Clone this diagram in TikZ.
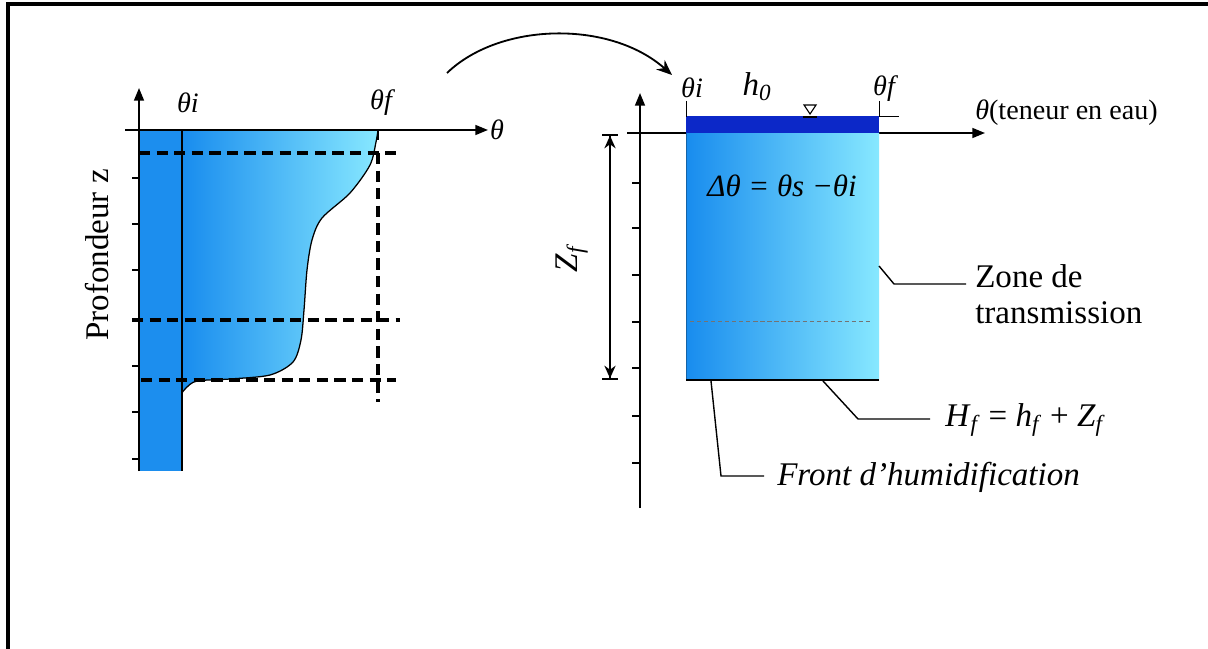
\documentclass[tikz,border=0pt]{standalone}
\usepackage{fontspec}
\setmainfont{Liberation Serif}
\usetikzlibrary{arrows.meta}
\definecolor{colblue}{RGB}{28,142,238}
\definecolor{gradL}{RGB}{24,140,238}
\definecolor{gradR}{RGB}{135,232,255}
\definecolor{bandblue}{RGB}{12,40,200}
\tikzset{
  axis/.style={line width=1.4pt,-{Triangle[length=9pt,width=7pt]}},
  tickline/.style={line width=1.4pt},
  dashline/.style={line width=2.6pt,dash pattern=on 8pt off 4.5pt},
  lbl/.style={font=\fontsize{23.5}{28}\selectfont,inner sep=0pt},
  smalllbl/.style={font=\fontsize{20}{24}\selectfont\itshape,inner sep=0pt},
  leader/.style={line width=1pt}
}
\begin{document}
\begin{tikzpicture}[x=0.025cm,y=-0.025cm]
\useasboundingbox (0,0) rectangle (1208,649);
% frame
\draw[line width=2.2pt] (8,649) -- (8,4) -- (1208,4);

% ---------------- left panel ----------------
\fill[colblue] (139,130) rectangle (182,471);
\shade[left color=gradL,right color=gradR]
  (182,130) -- plot[smooth] coordinates {(378,130) (376,142) (370,165) (350,193) (322,218) (312,240) (307,270) (304,310) (301,340) (293,362) (270,375) (230,379) (197,381) (186,388) (182,393)}
  -- cycle;
\draw[line width=0.9pt] plot[smooth] coordinates {(378,130) (376,142) (370,165) (350,193) (322,218) (312,240) (307,270) (304,310) (301,340) (293,362) (270,375) (230,379) (197,381) (186,388) (182,393)};
\draw[line width=1.4pt] (182,130) -- (182,471);
\coordinate (lytop) at (139,88);
\coordinate (lybot) at (139,471);
\coordinate (lxleft) at (125,130);
\coordinate (lxright) at (488,130);
\draw[axis] (lybot) -- (lytop);
\draw[axis] (lxleft) -- (lxright);
\foreach \t in {178,224,270,320,366,412,459} \draw[tickline] (132,\t) -- (139,\t);
% dashed lines
\draw[dashline] (139,153) -- (400,153);
\draw[dashline] (132,320) -- (400,320);
\draw[dashline] (141,380) -- (396,380);
\draw[dashline] (378,153) -- (378,402);
\draw[line width=2pt] (378,130) -- (378,140);
% labels
\node[smalllbl] (lth) at (497,130) {θ};
\node[smalllbl] (lthi) at (188,103) {θi};
\node[smalllbl] (lthf) at (381,103) {θf};
\node[lbl,rotate=90] (prof) at (97,255) {Profondeur z};

% curved arrow
\coordinate (ca1) at (447,73);
\coordinate (ca2) at (672,75);
\draw[line width=1.3pt,-{Stealth[length=11pt,width=9pt]}] (ca1) .. controls (500,22) and (610,20) .. (ca2);

% ---------------- right panel ----------------
\coordinate (rytop) at (640,93);
\coordinate (rybot) at (640,508);
\coordinate (rxleft) at (627,133);
\coordinate (rxright) at (985,133);
\draw[axis] (rybot) -- (rytop);
\draw[axis] (rxleft) -- (rxright);
\foreach \t in {183,228,275,322,368,416,463} \draw[tickline] (632,\t) -- (640,\t);
% soil column
\shade[left color=gradL,right color=gradR] (686,133) rectangle (879,380);
\fill[bandblue] (686,116) rectangle (879,133);
\draw[line width=0.5pt,colblue!70!black] (686,133) -- (686,380);
\draw[line width=1.4pt] (686,380) -- (879,380);
\draw[densely dashed,line width=0.4pt,black!55] (690,321) -- (872,321);
% small marks at top
\draw[line width=0.5pt] (686,101) -- (686,117);
\draw[line width=0.5pt] (879,101) -- (879,117);
\draw[line width=0.7pt] (879,116) -- (899,116);
% water level symbol
\draw[line width=0.8pt] (804,105) -- (816,105) -- (810,114) -- cycle;
\draw[line width=0.8pt] (803,117) -- (817,117);
% Zf dimension arrow
\coordinate (zt) at (610,134);
\coordinate (zb) at (610,380);
\draw[line width=1.2pt,{Bar[width=11pt]Stealth[length=9pt,width=8pt]}-{Stealth[length=9pt,width=8pt]Bar[width=11pt]}] (zt) -- (zb);
\node[lbl,rotate=90] (zf) at (572,258) {\textit{Z}\textsubscript{\textit{f}}};
% labels
\node[smalllbl] (rthi) at (692,88) {θi};
\node[lbl] (h0) at (757,87) {\textit{h}\textsubscript{\textit{0}}};
\node[smalllbl] (rthf) at (884,89) {θf};
\node[font=\fontsize{20}{24}\selectfont,inner sep=0pt,anchor=west] (teneur) at (975,113) {\textit{θ}(teneur en eau)};
\node[lbl,font=\fontsize{22}{26}\selectfont\itshape] (dtheta) at (782,186) {Δθ = θs −θi};
\node[lbl,anchor=west,align=left] (zone) at (975,294) {Zone de\\[-2pt]transmission};
\node[lbl,anchor=west] (hf) at (945,420) {\textit{H}\textsubscript{\textit{f}} = \textit{h}\textsubscript{\textit{f}} + \textit{Z}\textsubscript{\textit{f}}};
\node[lbl,anchor=west,font=\fontsize{23.5}{28}\selectfont\itshape] (front) at (777,477) {Front d'humidification};
% leaders
\coordinate (zl) at (879,266);
\coordinate (hl) at (823,381);
\coordinate (fl) at (711,381);
\draw[leader] (zl) -- (894,284) -- (966,284);
\draw[leader] (hl) -- (858,419) -- (930,419);
\draw[leader] (fl) -- (721,476) -- (764,476);
\end{tikzpicture}
\end{document}
